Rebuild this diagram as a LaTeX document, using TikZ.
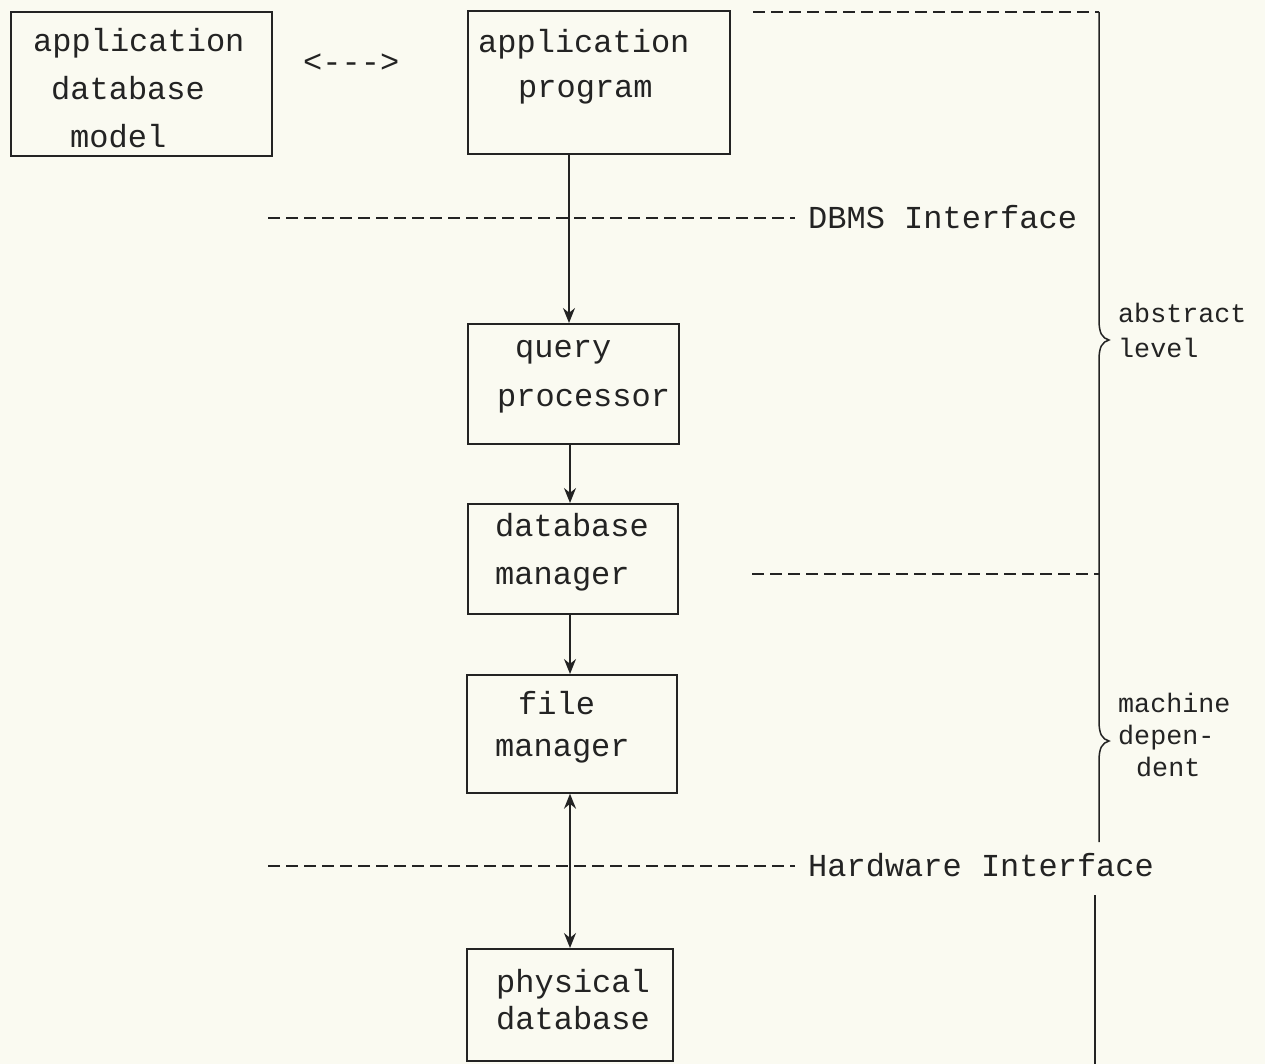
\documentclass[tikz,border=0pt]{standalone}
\usepackage{fontspec}
\setmonofont{Liberation Mono}
\usetikzlibrary{arrows.meta}
\definecolor{paper}{RGB}{250,250,241}
\definecolor{ink}{RGB}{35,35,35}
\begin{document}
\begin{tikzpicture}[x=1pt,y=-1pt,
  box/.style={draw=ink, line width=1.7pt, inner sep=0pt, anchor=north west},
  txt/.style={font=\fontsize{32}{38}\selectfont\ttfamily, text=ink, inner sep=0pt, anchor=west, text height=22pt, text depth=7pt},
  sml/.style={font=\fontsize{26.7}{32}\selectfont\ttfamily, text=ink, inner sep=0pt, anchor=west, text height=18pt, text depth=6pt},
  ifline/.style={draw=ink, line width=1.8pt, dash pattern=on 12pt off 6pt},
  conn/.style={draw=ink, line width=1.7pt},
  arr/.style={conn, -{Stealth[length=15pt,width=12pt]}},
  darr/.style={conn, {Stealth[length=15pt,width=12pt]}-{Stealth[length=15pt,width=12pt]}},
  brace/.style={draw=ink, line width=1.5pt}]
\fill[paper] (0,0) rectangle (1265,1064);
\useasboundingbox (0,0) rectangle (1265,1064);

% boxes
\node[box, minimum width=261pt, minimum height=144pt] (adm) at (10,11) {};
\node[box, minimum width=262pt, minimum height=143pt] (prog) at (467,10) {};
\node[box, minimum width=211pt, minimum height=120pt] (qp) at (467,323) {};
\node[box, minimum width=210pt, minimum height=110pt] (dbm) at (467,503) {};
\node[box, minimum width=210pt, minimum height=118pt] (fm) at (466,674) {};
\node[box, minimum width=206pt, minimum height=112pt] (pd) at (466,948) {};

% box texts
\node[txt] (adm1) at (33,44) {application};
\node[txt] (adm2) at (51,92) {database};
\node[txt] (adm3) at (70,140) {model};
\node[txt] (dbl) at (303,65) {<--->};
\node[txt] (prog1) at (478,45) {application};
\node[txt] (prog2) at (518,90) {program};
\node[txt] (qp1) at (515,350) {query};
\node[txt] (qp2) at (497,399) {processor};
\node[txt] (dbm1) at (495,529) {database};
\node[txt] (dbm2) at (495,577) {manager};
\node[txt] (fm1) at (518,707) {file};
\node[txt] (fm2) at (495,749) {manager};
\node[txt] (pd1) at (496,985) {physical};
\node[txt] (pd2) at (496,1022) {database};

% interface lines
\coordinate (d1a) at (268,218);
\coordinate (d1b) at (795,218);
\node[txt] (dbmsl) at (808,221) {DBMS Interface};
\draw[ifline] (d1a) -- (d1b);
\coordinate (h1a) at (268,866);
\coordinate (h1b) at (795,866);
\node[txt] (hwl) at (808,869) {Hardware Interface};
\draw[ifline] (h1a) -- (h1b);
\coordinate (t1a) at (753,12);
\coordinate (t1b) at (1099,12);
\draw[ifline] (t1a) -- (t1b);
\coordinate (m1a) at (752,574);
\coordinate (m1b) at (1099,574);
\draw[ifline] (m1a) -- (m1b);

% connectors
\draw[arr] (prog.south -| 569,0) -- (qp.north -| 569,0);
\draw[arr] (qp.south -| 570,0) -- (dbm.north -| 570,0);
\draw[arr] (dbm.south -| 570,0) -- (fm.north -| 570,0);
\draw[darr] (fm.south -| 570,0) -- (pd.north -| 570,0);

% braces
\draw[brace] (t1b) -- (1099,320) .. controls (1099,333) and (1102,338) .. (1109,340)
  .. controls (1102,342) and (1099,347) .. (1099,360) -- (m1b)
  -- (1099,721) .. controls (1099,734) and (1102,739) .. (1109,741)
  .. controls (1102,743) and (1099,748) .. (1099,761) -- (1099,842);
\coordinate (lb1) at (1095,895);
\coordinate (lb2) at (1095,1064);
\draw[brace] (lb1) -- (lb2);

\node[sml] (abs1) at (1118,317) {abstract};
\node[sml] (abs2) at (1118,351) {level};
\node[sml] (md1) at (1118,706) {machine};
\node[sml] (md2) at (1118,738) {depen-};
\node[sml] (md3) at (1136,770) {dent};
\end{tikzpicture}
\end{document}
